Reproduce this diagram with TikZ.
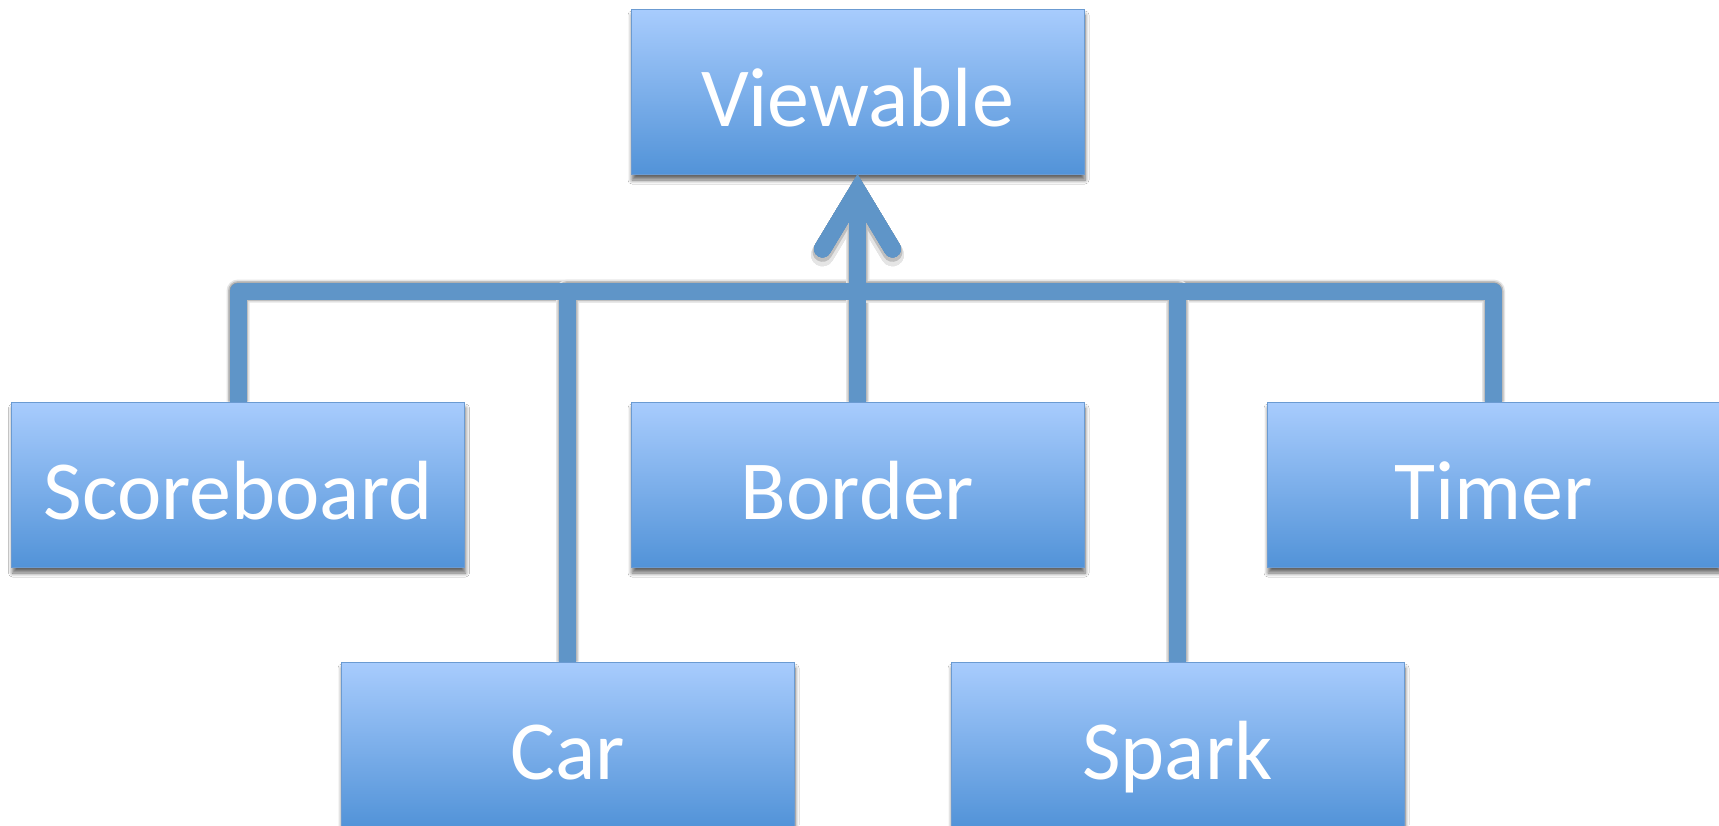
\documentclass[tikz,border=0pt]{standalone}
\usepackage{fontspec}
\setmainfont{Carlito}
\usetikzlibrary{arrows.meta,shadows.blur}

\definecolor{boxtop}{HTML}{A8CCFD}
\definecolor{boxbot}{HTML}{5293D8}
\definecolor{boxedge}{HTML}{6B9BD2}
\definecolor{wirecol}{HTML}{5F95C8}

\tikzset{
  classbox/.style={rectangle, draw=boxedge, line width=1pt,
    top color=boxtop, bottom color=boxbot,
    minimum width=453pt, minimum height=165pt, inner sep=0pt,
    text=white, font=\fontsize{84}{100}\selectfont,
    text height=69pt, text depth=0pt,
    blur shadow={shadow xshift=1pt, shadow yshift=-6pt,
      shadow blur radius=4pt, shadow blur steps=6, shadow opacity=60}},
  inherit/.style={line width=17pt, line join=round,
    -{Straight Barb[length=58pt, width=70pt, line cap=round, line join=miter]}},
  wire/.style={inherit, draw=wirecol},
}

\begin{document}
\begin{tikzpicture}[x=1pt, y=-1pt]
  \useasboundingbox[fill=white] (0,0) rectangle (1719,825);

  % class boxes
  \node[classbox] (top)    at (857.5,91.5)  {Viewable};
  \node[classbox] (sb)     at (238,484.5)   {Scoreboard};
  \node[classbox] (border) at (857.5,484.5) {Border};
  \node[classbox] (timer)  at (1493.5,484.5){Timer};
  \node[classbox] (car)    at (567.5,744.5) {Car};
  \node[classbox] (spark)  at (1177.5,744.5){Spark};

  % height of the shared horizontal bus
  \coordinate (bus) at (0,291);

  % soft shadow under the inheritance lines
  \begin{scope}[transparency group, opacity=0.5, shift={(1,5)}]
    \foreach \c in {sb,car,border,timer,spark} {
      \draw[inherit, draw=black!20, line width=23pt]
        (\c.north) |- (bus -| top.south) -- (top.south);
      \draw[inherit, draw=black!50, line width=20pt]
        (\c.north) |- (bus -| top.south) -- (top.south);
      \draw[inherit, draw=black!80, line width=17pt]
        (\c.north) |- (bus -| top.south) -- (top.south);
    }
  \end{scope}

  % inheritance lines into Viewable
  \foreach \c in {sb,car,border,timer,spark} {
    \draw[wire] (\c.north) |- (bus -| top.south) -- (top.south);
  }
\end{tikzpicture}
\end{document}
